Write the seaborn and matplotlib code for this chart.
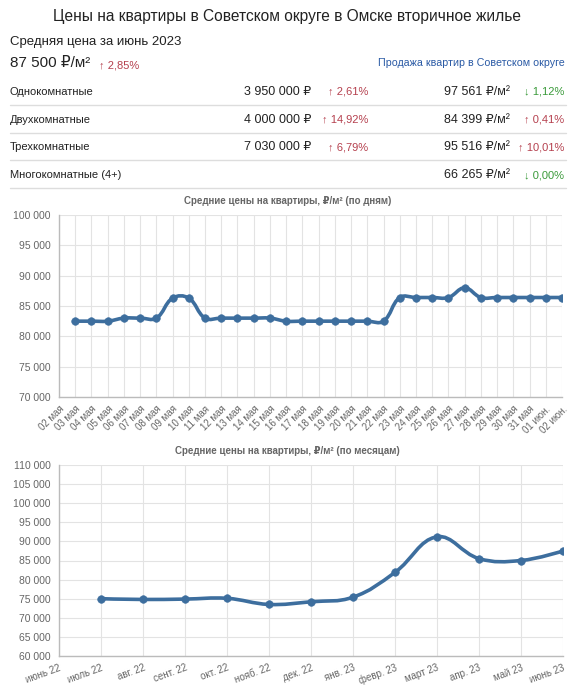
import numpy as np
import seaborn as sns
import matplotlib.pyplot as plt
from matplotlib.path import Path
from matplotlib.patches import PathPatch
from matplotlib.ticker import MultipleLocator, FuncFormatter

# --- data ---
day_labels = ['02 мая', '03 мая', '04 мая', '05 мая', '06 мая', '07 мая', '08 мая', '09 мая',
              '10 мая', '11 мая', '12 мая', '13 мая', '14 мая', '15 мая', '16 мая', '17 мая',
              '18 мая', '19 мая', '20 мая', '21 мая', '22 мая', '23 мая', '24 мая', '25 мая',
              '26 мая', '27 мая', '28 мая', '29 мая', '30 мая', '31 мая', '01 июн.', '02 июн.']
day_values = [82500, 82500, 82500, 83000, 83000, 83000, 86300, 86300, 83000, 83000,
              83000, 83000, 83000, 82500, 82500, 82500, 82500, 82500, 82500, 82500,
              86400, 86400, 86400, 86400, 88000, 86400, 86400, 86400, 86400, 86400, 86400]

month_labels = ['июнь 22', 'июль 22', 'авг. 22', 'сент. 22', 'окт. 22', 'нояб. 22', 'дек. 22',
                'янв. 23', 'февр. 23', 'март 23', 'апр. 23', 'май 23', 'июнь 23']
month_values = [75000, 74800, 74900, 75100, 73500, 74200, 75400, 81900, 91200, 85500, 85000, 87500]

rooms = ['Однокомнатные', 'Двухкомнатные', 'Трехкомнатные', 'Многокомнатные (4+)']
room_price = ['3 950 000 ₽', '4 000 000 ₽', '7 030 000 ₽', '']
room_price_chg = ['↑ 2,61%', '↑ 14,92%', '↑ 6,79%', '']
room_sqm = ['97 561 ₽/м²', '84 399 ₽/м²', '95 516 ₽/м²', '66 265 ₽/м²']
room_sqm_chg = ['↓ 1,12%', '↑ 0,41%', '↑ 10,01%', '↓ 0,00%']

sns.set_theme(style='whitegrid')
plt.rcParams['font.family'] = ['Liberation Sans', 'DejaVu Sans']

W, H = 575, 692
fig = plt.figure(figsize=(W / 100, H / 100), dpi=100)

LINE = '#3d6e9e'
RED = '#b5404e'
GREEN = '#3a9a3a'


def fpos(x, y):
    return x / W, 1 - y / H


def chg_color(s):
    return RED if s.startswith('↑') else GREEN


# header block
fig.text(*fpos(287, 16), 'Цены на квартиры в Советском округе в Омске вторичное жилье',
         ha='center', va='center', fontsize=11.2, color='#222222')
fig.text(*fpos(10, 42), 'Средняя цена за июнь 2023', ha='left', va='center',
         fontsize=9.5, color='#222222')
fig.text(*fpos(10, 63), '87 500 ₽/м²', ha='left', va='center', fontsize=11, color='#222222')
fig.text(*fpos(99, 65), '↑ 2,85%', ha='left', va='center', fontsize=8, color=RED)
fig.text(*fpos(565, 63), 'Продажа квартир в Советском округе', ha='right', va='center',
         fontsize=7.7, color='#2a5aa5')

for i, name in enumerate(rooms):
    y = 92 + i * 27.7
    fig.text(*fpos(10, y), name, ha='left', va='center', fontsize=8, color='#222222')
    if room_price[i]:
        fig.text(*fpos(311, y), room_price[i], ha='right', va='center', fontsize=9, color='#222222')
        fig.text(*fpos(368, y), room_price_chg[i], ha='right', va='center', fontsize=8,
                 color=chg_color(room_price_chg[i]))
    fig.text(*fpos(510, y), room_sqm[i], ha='right', va='center', fontsize=9, color='#222222')
    fig.text(*fpos(564, y), room_sqm_chg[i], ha='right', va='center', fontsize=8,
             color=chg_color(room_sqm_chg[i]))
    ly = 1 - (y + 13) / H
    fig.add_artist(plt.Line2D([10 / W, 566 / W], [ly, ly], color='#dddddd', lw=1))


def spline(ax, xs, ys, t=0.4):
    # chart.js style bezier through the points, computed in pixel space
    pts = ax.transData.transform(np.column_stack([xs, ys]))
    n = len(pts)
    cp_in = pts.copy()
    cp_out = pts.copy()
    for i in range(1, n - 1):
        p0, p1, p2 = pts[i - 1], pts[i], pts[i + 1]
        d01 = np.hypot(*(p1 - p0))
        d12 = np.hypot(*(p2 - p1))
        s01 = d01 / (d01 + d12)
        s12 = d12 / (d01 + d12)
        cp_in[i] = p1 - t * s01 * (p2 - p0)
        cp_out[i] = p1 + t * s12 * (p2 - p0)
    verts = [pts[0]]
    codes = [Path.MOVETO]
    for i in range(n - 1):
        verts += [cp_out[i], cp_in[i + 1], pts[i + 1]]
        codes += [Path.CURVE4] * 3
    verts = ax.transData.inverted().transform(np.array(verts))
    ax.add_patch(PathPatch(Path(verts, codes), fill=False, edgecolor=LINE, lw=2.6,
                           capstyle='round', joinstyle='round', zorder=3))


def style_axis(ax, title, labels, ylim, rot):
    ax.set_xlim(0, len(labels) - 1)
    ax.set_ylim(*ylim)
    ax.set_xticks(range(len(labels)))
    ax.set_xticklabels(labels, rotation=rot, ha='right', rotation_mode='anchor',
                       fontsize=7, color='#666666')
    ax.yaxis.set_major_locator(MultipleLocator(5000))
    ax.yaxis.set_major_formatter(FuncFormatter(lambda v, p: f'{int(v):,}'.replace(',', ' ')))
    ax.tick_params(axis='y', labelsize=7.5, labelcolor='#666666', length=4, color='#dddddd', pad=2)
    ax.tick_params(axis='x', length=4, color='#dddddd', pad=1)
    ax.grid(True, color='#e3e3e3', lw=0.8)
    for side in ['top', 'right']:
        ax.spines[side].set_visible(False)
    for side in ['left', 'bottom']:
        ax.spines[side].set_color('#bbbbbb')
        ax.spines[side].set_linewidth(1)
    ax.set_facecolor('white')
    # title is centred on the page, not on the plot area
    pos = ax.get_position()
    tx = (0.5 - pos.x0) / pos.width
    ax.set_title(title, x=tx, fontsize=7, fontweight='bold', color='#666666', pad=8)
    ax.set_xlabel('')
    ax.set_ylabel('')


# daily chart
ax1 = fig.add_axes([59 / W, 1 - 397 / H, 503 / W, 182 / H])
style_axis(ax1, 'Средние цены на квартиры, ₽/м² (по дням)', day_labels, (70000, 100000), 45)
dx = np.arange(1, len(day_values) + 1)
spline(ax1, dx, day_values)
sns.scatterplot(x=dx, y=day_values, ax=ax1, color=LINE, s=30, edgecolor=LINE, zorder=4)

# monthly chart
ax2 = fig.add_axes([59 / W, 1 - 656 / H, 504 / W, 191 / H])
style_axis(ax2, 'Средние цены на квартиры, ₽/м² (по месяцам)', month_labels, (60000, 110000), 20)
mx = np.arange(1, len(month_values) + 1)
spline(ax2, mx, month_values)
sns.scatterplot(x=mx, y=month_values, ax=ax2, color=LINE, s=30, edgecolor=LINE, zorder=4)

fig.savefig('out.png', dpi=100, facecolor='white')
